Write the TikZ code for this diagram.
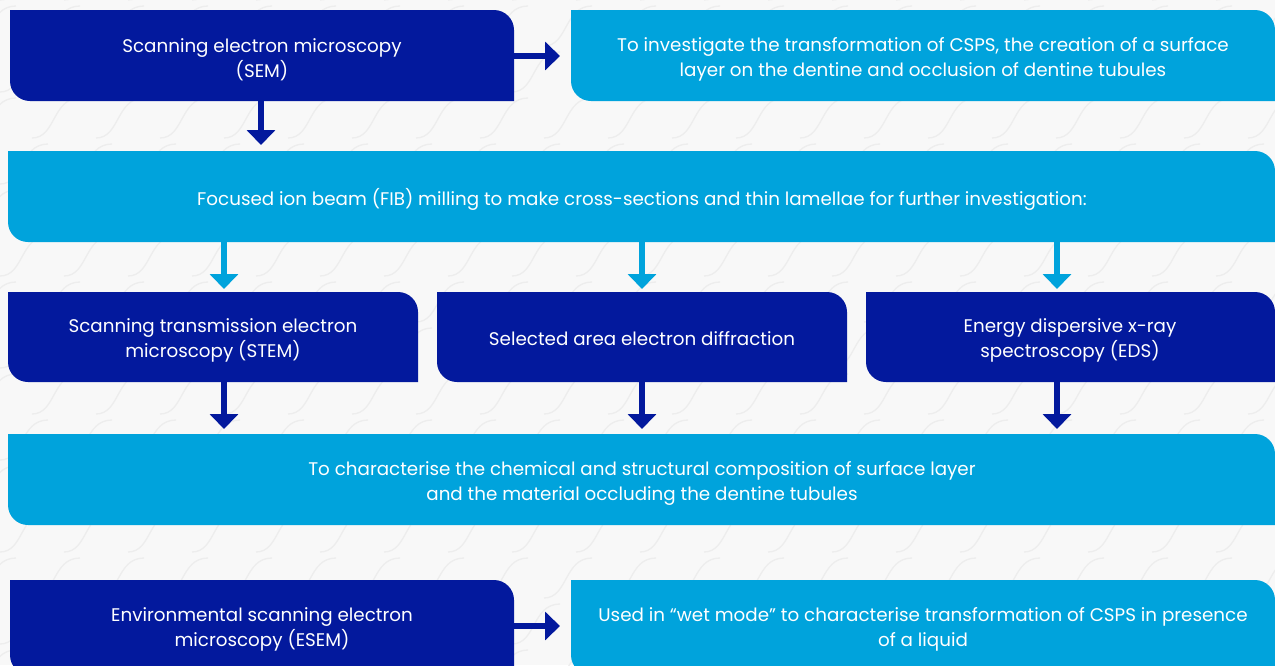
\documentclass[tikz,border=0pt]{standalone}
\usepackage{fontspec}
\setmainfont{Poppins}
\usetikzlibrary{arrows.meta,calc}
\definecolor{dkblue}{RGB}{3,25,157}
\definecolor{ltblue}{RGB}{0,163,220}
\definecolor{bgc}{RGB}{248,248,248}
\definecolor{patc}{RGB}{237,237,237}
\newcommand\cornerbox[6]{%
  \fill[#6] (#2,#3) -- ({#4-20},#3) arc[start angle=90,end angle=0,radius=20pt]
    -- (#4,#5) -- ({#2+20},#5) arc[start angle=270,end angle=180,radius=20pt] -- cycle;
  \coordinate (#1-nw) at (#2,#3);
  \coordinate (#1-se) at (#4,#5);
}
\begin{document}
\begin{tikzpicture}[x=1pt,y=-1pt,
  boxtext/.style={text=white,align=center,font=\fontsize{18.3}{25}\selectfont,inner sep=0pt},
  arrdk/.style={draw=dkblue,line width=6pt,-{Triangle[width=28pt,length=15pt]}},
  arrlt/.style={draw=ltblue,line width=6pt,-{Triangle[width=28pt,length=15pt]}},
  pat/.style={draw=patc,line width=1.3pt}]
\useasboundingbox (0,0) rectangle (1275,665);
\fill[bgc] (0,0) rectangle (1275,665);
\begin{scope}
\clip (0,0) rectangle (1275,665);
\foreach \j in {0,...,15}{
  \foreach \i in {-1,...,21}{
    \pgfmathsetmacro\px{\i*64+mod(\j,2)*32}
    \pgfmathsetmacro\py{\j*46}
    \draw[pat] (\px,\py) .. controls ({\px+24},\py) and ({\px+20},{\py-40}) .. ({\px+48},{\py-40});
  }
}
\end{scope}
% boxes
\cornerbox{sem}{10}{10}{514}{101}{dkblue}
\cornerbox{inv}{571}{10}{1275}{101}{ltblue}
\cornerbox{fib}{8}{151}{1275}{242}{ltblue}
\cornerbox{stem}{8}{292}{418}{382}{dkblue}
\cornerbox{saed}{437}{292}{847}{382}{dkblue}
\cornerbox{eds}{866}{292}{1275}{382}{dkblue}
\cornerbox{chr}{8}{434}{1275}{525}{ltblue}
\cornerbox{esem}{10}{580}{514}{675}{dkblue}
\cornerbox{wet}{571}{580}{1275}{675}{ltblue}
% texts
\node[boxtext] (semT) at (262,59.5) {Scanning electron microscopy\\(SEM)};
\node[boxtext] (invT) at (923,59.5) {To investigate the transformation of CSPS, the creation of a surface\\layer on the dentine and occlusion of dentine tubules};
\node[boxtext] (fibT) at (642,199) {Focused ion beam (FIB) milling to make cross-sections and thin lamellae for further investigation:};
\node[boxtext] (stemT) at (213,340.5) {Scanning transmission electron\\microscopy (STEM)};
\node[boxtext] (saedT) at (642,339) {Selected area electron diffraction};
\node[boxtext] (edsT) at (1070,340.5) {Energy dispersive x-ray\\spectroscopy (EDS)};
\node[boxtext] (chrT) at (642,483.5) {To characterise the chemical and structural composition of surface layer\\and the material occluding the dentine tubules};
\node[boxtext] (esemT) at (262,629) {Environmental scanning electron\\microscopy (ESEM)};
\node[boxtext] (wetT) at (923,629) {Used in “wet mode” to characterise transformation of CSPS in presence\\of a liquid};
% connectors
\draw[arrdk] (sem-se |- 0,56) -- ($(inv-nw |- 0,56)+(-11,0)$);
\draw[arrdk] (261,101) coordinate (a0) -- ($(a0 |- fib-nw)+(0,-6)$);
\draw[arrlt] (224,242) coordinate (a1) -- ($(a1 |- stem-nw)+(0,-3)$);
\draw[arrlt] (642,242) coordinate (a2) -- ($(a2 |- saed-nw)+(0,-3)$);
\draw[arrlt] (1057,242) coordinate (a3) -- ($(a3 |- eds-nw)+(0,-3)$);
\draw[arrdk] (224,382) coordinate (b1) -- ($(b1 |- chr-nw)+(0,-5)$);
\draw[arrdk] (642,382) coordinate (b2) -- ($(b2 |- chr-nw)+(0,-5)$);
\draw[arrdk] (1057,382) coordinate (b3) -- ($(b3 |- chr-nw)+(0,-5)$);
\draw[arrdk] (esem-se |- 0,626) -- ($(wet-nw |- 0,626)+(-11,0)$);
\end{tikzpicture}
\end{document}
